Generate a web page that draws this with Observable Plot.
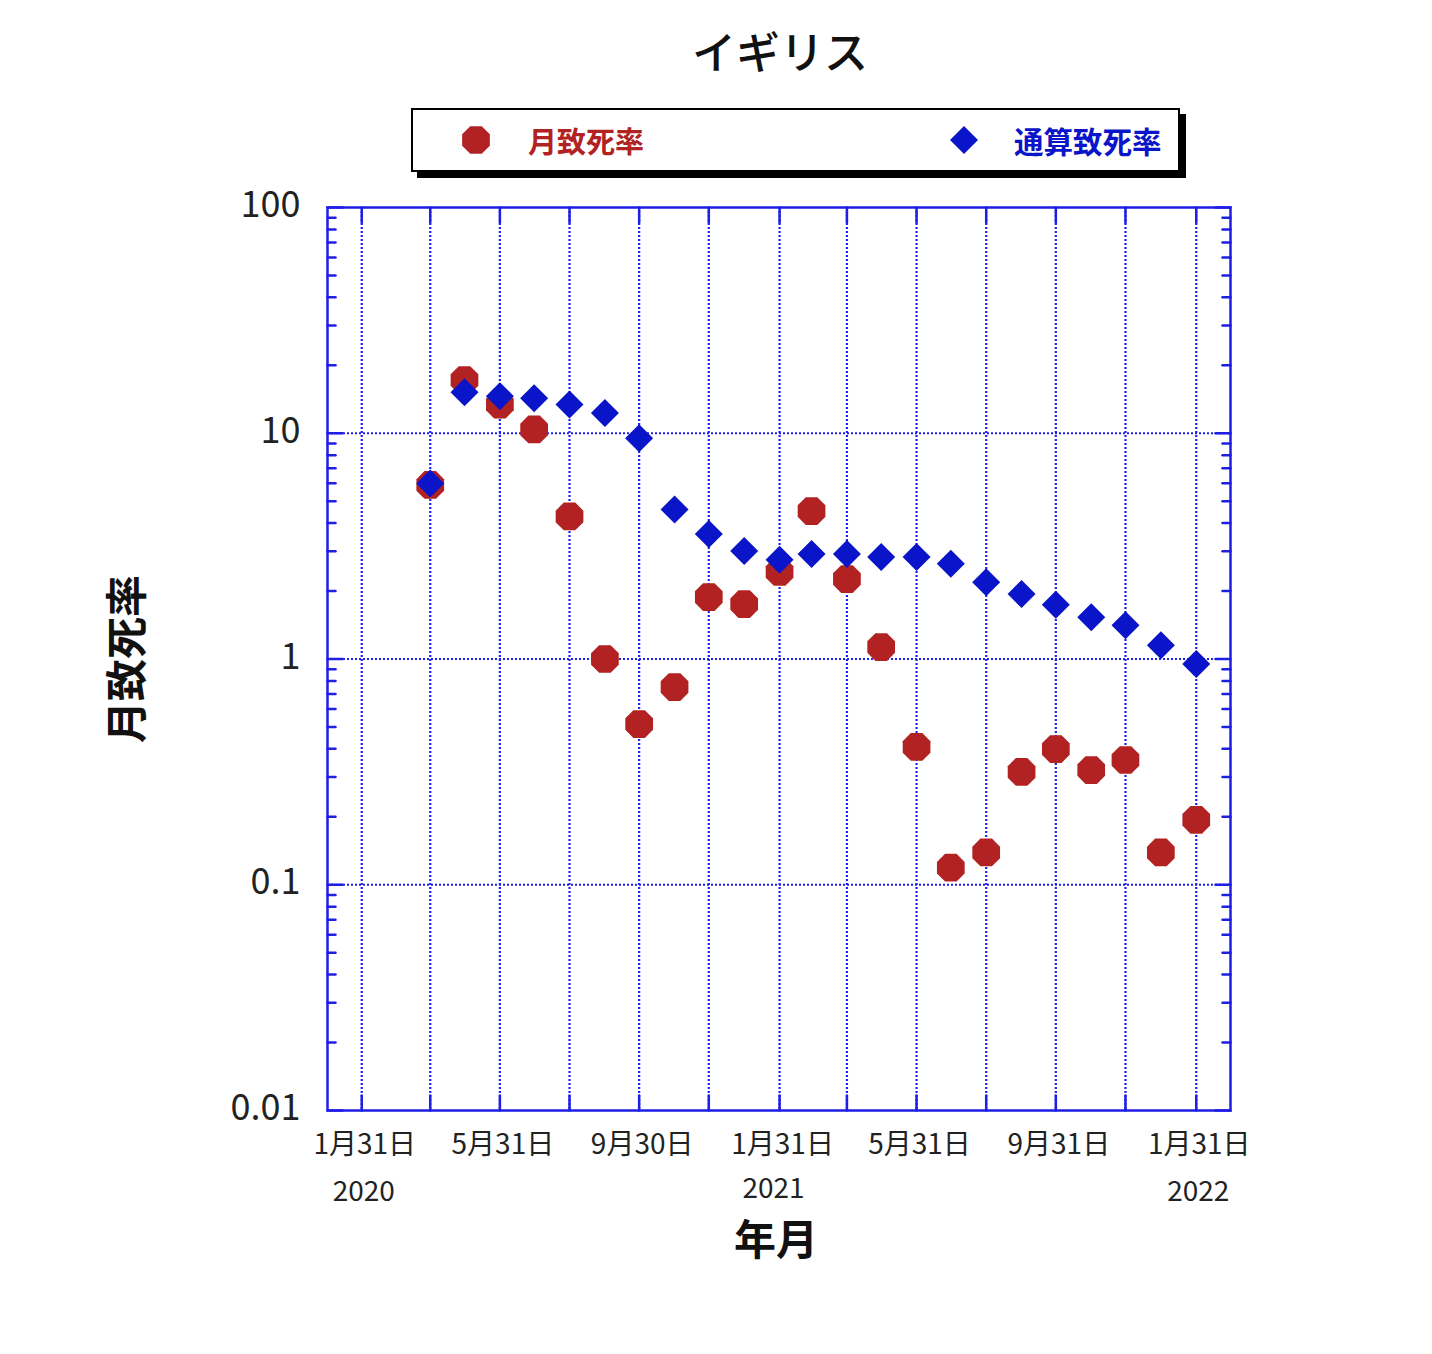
<!DOCTYPE html>
<html>
<head>
<meta charset="utf-8">
<script src="https://cdn.jsdelivr.net/npm/d3@7"></script>
<script src="https://cdn.jsdelivr.net/npm/@observablehq/plot@0.6"></script>
<style>
  html, body { margin: 0; padding: 0; background: #fff; }
  body { width: 1432px; height: 1354px; position: relative; font-family: "Noto Sans CJK JP", "Noto Sans", sans-serif; }
  #header { position: relative; width: 1432px; height: 150px; z-index: 2; }
  #title { position: absolute; left: 0; width: 1560px; top: 22px; text-align: center; font-size: 44px; font-weight: 500; line-height: 56px; color: #111; }
  #legend { position: absolute; left: 411px; top: 108px; width: 765px; height: 60px; border: 2px solid #000; box-shadow: 6px 6px 0 #000; background: #fff; }
  #legend .item { position: absolute; top: 0; height: 60px; display: flex; align-items: center; font-weight: 700; }
  #legend svg { display: block; }
  #chart { position: relative; z-index: 1; }
  g[aria-label="xticklabels"] text { letter-spacing: 6px; }
</style>
</head>
<body>
<div id="header">
  <div id="title"></div>
  <div id="legend"></div>
</div>
<div id="chart"></div>
<script>
// ---- data ----
const title = "イギリス";
const seriesNames = ["月致死率", "通算致死率"];
const months = [
  "2020-03-31","2020-04-30","2020-05-31","2020-06-30","2020-07-31","2020-08-31",
  "2020-09-30","2020-10-31","2020-11-30","2020-12-31","2021-01-31","2021-02-28",
  "2021-03-31","2021-04-30","2021-05-31","2021-06-30","2021-07-31","2021-08-31",
  "2021-09-30","2021-10-31","2021-11-30","2021-12-31","2022-01-31"
];
const monthlyRate = [
  5.9, 17.2, 13.4, 10.4, 4.28, 1.0,
  0.515, 0.751, 1.88, 1.75, 2.43, 4.52,
  2.26, 1.13, 0.408, 0.119, 0.139, 0.316,
  0.399, 0.322, 0.357, 0.139, 0.194
];
const cumulativeRate = [
  5.99, 15.2, 14.6, 14.3, 13.4, 12.3,
  9.5, 4.6, 3.58, 3.01, 2.75, 2.92,
  2.92, 2.83, 2.83, 2.64, 2.19, 1.94,
  1.74, 1.53, 1.41, 1.15, 0.95
];
const gridDates = [
  "2020-01-31","2020-03-31","2020-05-31","2020-07-31","2020-09-30","2020-11-30",
  "2021-01-31","2021-03-31","2021-05-31","2021-07-31","2021-09-30","2021-11-30","2022-01-31"
];
const xLabelDates = ["2020-01-31","2020-05-31","2020-09-30","2021-01-31","2021-05-31","2021-09-30","2022-01-31"];
const xTickLabels = ["1月31日","5月31日","9月30日","1月31日","5月31日","9月31日","1月31日"];
const yearDates = ["2020-01-31","2021-01-31","2022-01-31"];
const yearLabels = ["2020","2021","2022"];
const yTicks = [0.01, 0.1, 1, 10, 100];
const yTickLabels = ["0.01", "0.1", "1", "10", "100"];
const yMinorTicks = [];
for (const d of [0.01, 0.1, 1, 10]) for (let k = 2; k <= 9; k++) yMinorTicks.push(+(d * k).toPrecision(3));
const xAxisTitle = "年月";
const yAxisTitle = "月致死率";
const xDomain = ["2020-01-01", "2022-03-02"];

// ---- styles ----
const RED = "#b22222";
const BLUE = "#0a14c8";
const FRAME = "#1e1ee6";
const GRID = "#2020ee";
const FONT = "'Noto Sans CJK JP', 'Noto Sans', sans-serif";

const parse = s => new Date(s + "T00:00:00Z");
const monthlyData = months.map((m, i) => ({date: parse(m), value: monthlyRate[i]}));
const cumulativeData = months.map((m, i) => ({date: parse(m), value: cumulativeRate[i]}));
const xd = xDomain.map(parse);

// custom symbols
const octagon = {
  draw(ctx, size) {
    const R = Math.sqrt(size / Math.PI);
    for (let i = 0; i < 8; i++) {
      const a = Math.PI / 8 + i * Math.PI / 4;
      const x = R * Math.cos(a), y = R * Math.sin(a);
      if (i === 0) ctx.moveTo(x, y); else ctx.lineTo(x, y);
    }
    ctx.closePath();
  }
};
const diamond = {
  draw(ctx, size) {
    const R = Math.sqrt(size / Math.PI);
    ctx.moveTo(0, -R); ctx.lineTo(R, 0); ctx.lineTo(0, R); ctx.lineTo(-R, 0); ctx.closePath();
  }
};
const line = { draw(ctx, l) { ctx.moveTo(0, 0); ctx.lineTo(0, -l); } };

// ---- header ----
document.getElementById("title").textContent = title;
const legend = document.getElementById("legend");
legend.innerHTML = `
  <div class="item" style="left:47px;"><svg width="32" height="32" viewBox="-16 -16 32 32"><polygon points="${d3.range(8).map(i => { const a = Math.PI/8 + i*Math.PI/4; return (15*Math.cos(a)).toFixed(2)+','+(15*Math.sin(a)).toFixed(2); }).join(' ')}" fill="${RED}"/></svg></div>
  <div class="item" style="left:115px; color:${RED}; font-size:29px;">${seriesNames[0]}</div>
  <div class="item" style="left:535px;"><svg width="32" height="32" viewBox="-16 -16 32 32"><polygon points="0,-14 14,0 0,14 -14,0" fill="${BLUE}"/></svg></div>
  <div class="item" style="left:601px; color:${BLUE}; font-size:29.5px;">${seriesNames[1]}</div>`;

// ---- chart ----
const chart = Plot.plot({
  width: 1432,
  height: 1204,
  marginTop: 57,
  marginLeft: 327,
  marginRight: 202,
  marginBottom: 244,
  style: {fontFamily: FONT, color: "#222", background: "transparent", overflow: "visible"},
  x: {type: "utc", domain: xd, axis: null},
  y: {type: "log", domain: [0.01, 100], axis: null},
  marks: [
    // dotted grid
    Plot.ruleX(gridDates.map(parse), {stroke: GRID, strokeWidth: 2.2, strokeDasharray: "2,2"}),
    Plot.ruleY([0.1, 1, 10], {stroke: GRID, strokeWidth: 2.2, strokeDasharray: "2,2"}),
    // solid ticks on x grid lines (bottom and top)
    Plot.vector(gridDates.map(parse), {x: d => d, y: () => 0.01, length: 15, rotate: 0, anchor: "start", shape: line, stroke: FRAME, strokeWidth: 2.5}),
    Plot.vector(gridDates.map(parse), {x: d => d, y: () => 100, length: 15, rotate: 180, anchor: "start", shape: line, stroke: FRAME, strokeWidth: 2.5}),
    // y major/minor ticks on left and right edges
    Plot.vector(yTicks, {x: () => xd[0], y: d => d, length: 15, rotate: 90, anchor: "start", shape: line, stroke: FRAME, strokeWidth: 2.5}),
    Plot.vector(yTicks, {x: () => xd[1], y: d => d, length: 15, rotate: -90, anchor: "start", shape: line, stroke: FRAME, strokeWidth: 2.5}),
    Plot.vector(yMinorTicks, {x: () => xd[0], y: d => d, length: 8, rotate: 90, anchor: "start", shape: line, stroke: FRAME, strokeWidth: 2.5}),
    Plot.vector(yMinorTicks, {x: () => xd[1], y: d => d, length: 8, rotate: -90, anchor: "start", shape: line, stroke: FRAME, strokeWidth: 2.5}),
    Plot.frame({stroke: FRAME, strokeWidth: 2.5}),
    // data
    Plot.dot(monthlyData, {x: "date", y: "value", r: 15, symbol: octagon, fill: RED, stroke: "none"}),
    Plot.dot(cumulativeData, {x: "date", y: "value", r: 14, symbol: diamond, fill: BLUE, stroke: "none"}),
    // y tick labels
    Plot.text(yTicks, {y: d => d, frameAnchor: "left", textAnchor: "end", dx: -27, dy: -2, text: (d, i) => yTickLabels[i], fontSize: 36, fill: "#222"}),
    // x tick labels
    Plot.text(xLabelDates.map(parse), {x: d => d, frameAnchor: "bottom", textAnchor: "middle", dx: 3, dy: 43, text: (d, i) => xTickLabels[i], fontSize: 28, fill: "#222", ariaLabel: "xticklabels"}),
    Plot.text(yearDates.map(parse), {x: d => d, frameAnchor: "bottom", textAnchor: "middle", dy: 90, dx: 2, text: (d, i) => yearLabels[i], fontSize: 28, fill: "#222", filter: (d, i) => i !== 1}),
    Plot.text(yearDates.map(parse), {x: d => d, frameAnchor: "bottom", textAnchor: "middle", dy: 87, dx: -6, text: (d, i) => yearLabels[i], fontSize: 28, fill: "#222", filter: (d, i) => i === 1}),
    // axis titles
    Plot.text([xAxisTitle], {frameAnchor: "bottom", textAnchor: "middle", dy: 144, dx: -3, text: d => d, fontSize: 42, fontWeight: "bold", fill: "#111"}),
    Plot.text([yAxisTitle], {frameAnchor: "left", textAnchor: "middle", dx: -199, text: d => d, rotate: -90, fontSize: 42, fontWeight: "bold", fill: "#111"})
  ]
});
document.getElementById("chart").appendChild(chart);
</script>
</body>
</html>
